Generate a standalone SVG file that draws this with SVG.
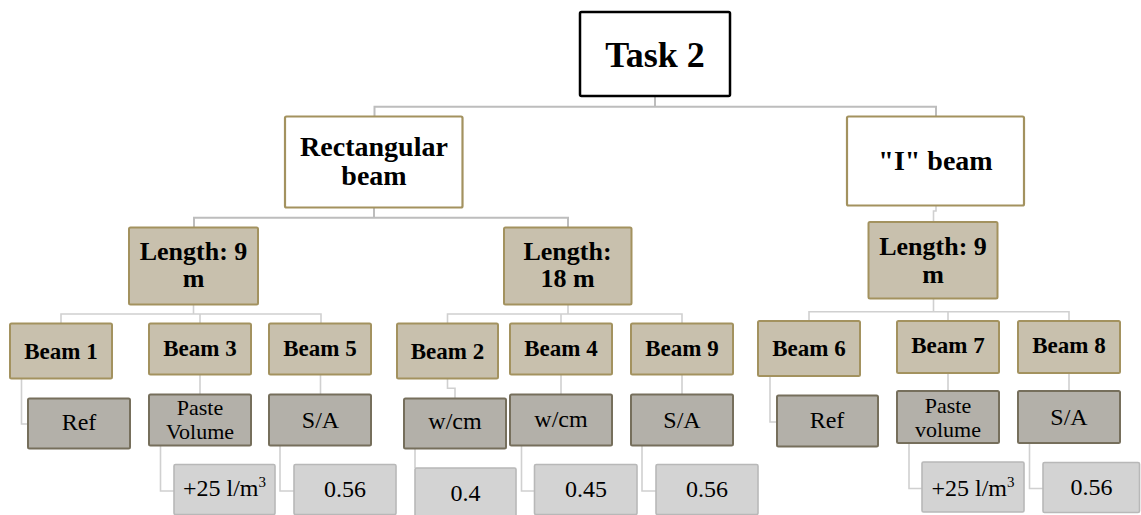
<svg xmlns="http://www.w3.org/2000/svg" width="1141" height="515" viewBox="0 0 1141 515">
<style>
text{font-family:"Liberation Serif","Times New Roman",serif;text-anchor:middle;fill:#000}
.b{font-weight:bold}
.top{fill:#fff;stroke:#000;stroke-width:2.5}
.wh{fill:#fff;stroke:#A3925F;stroke-width:2.2}
.tan{fill:#C8C0AD;stroke:#A3925F;stroke-width:2}
.dk{fill:#B3B0A9;stroke:#766F5C;stroke-width:2}
.lt{fill:#D3D3D3;stroke:#B8B8B8;stroke-width:1.6}
.c1{fill:none;stroke:#BDBDBD;stroke-width:2}
.c2{fill:none;stroke:#D0D0D0;stroke-width:1.6}
.f36{font-size:36px}.f28{font-size:28px}.f26{font-size:26px}.f23{font-size:23px}.f24{font-size:24px}.f22{font-size:22px}
</style>
<rect width="1141" height="515" fill="#fff"/>
<g id="connectors">
<path class="c1" d="M655,96.7 V106.7 M374.5,116.5 V106.7 H936 V116.5"/>
<path class="c1" d="M374,207.7 V217.7 M194,227.5 V217.7 H568 V227.5"/>
<path class="c2" d="M936,205.5 V211 H933.5 V222"/>
<path class="c2" d="M193.5,304.7 V314 M61,323.5 V314 H321 V323.5 M200,314 V323.5"/>
<path class="c2" d="M568,304.7 V314 M447.5,323.5 V314 H682 V323.5 M561,314 V323.5"/>
<path class="c2" d="M933.5,298.7 V311.7 M809,321 V311.7 H1069 V321 M948,311.7 V321"/>
<path class="c2" d="M21.5,378.5 V424 H28"/>
<path class="c2" d="M200,374.5 V394.5 M320.5,374.5 V394.5"/>
<path class="c2" d="M447.5,378.5 V388.3 H455 V398.5"/>
<path class="c2" d="M561,374.5 V394.5 M682,374.5 V394.5"/>
<path class="c2" d="M770,376 V422 H777"/>
<path class="c2" d="M948,373 V391 M1069,373 V391"/>
<path class="c2" d="M160.5,445.5 V491 H174 M280,445.5 V491 H294"/>
<path class="c2" d="M415,448.5 V468"/>
<path class="c2" d="M521.5,445.5 V491 H534.5 M642,445.5 V491 H656"/>
<path class="c2" d="M909,443 V488.5 H922 M1029.5,443 V488.5 H1043"/>
</g>
<g id="task2"><rect class="top" x="580" y="12" width="150" height="84" rx="1.5"/><text class="b f36" x="655" y="66.7">Task 2</text></g>
<g id="rect-beam"><rect class="wh" x="285" y="116.5" width="177.5" height="91" rx="1.5"/><text class="b f28" x="374" y="156">Rectangular</text><text class="b f28" x="374" y="185">beam</text></g>
<g id="i-beam"><rect class="wh" x="847" y="116.5" width="177" height="89" rx="1.5"/><text class="b f28" x="935.5" y="170">"I" beam</text></g>
<g id="len9-left"><rect class="tan" x="129" y="227.5" width="129" height="77" rx="1.5"/><text class="b f26" x="193.5" y="260">Length: 9</text><text class="b f26" x="193.5" y="287.3">m</text></g>
<g id="len18"><rect class="tan" x="504" y="227.5" width="127.5" height="77" rx="1.5"/><text class="b f26" x="567.5" y="260">Length:</text><text class="b f26" x="567.5" y="286.7">18 m</text></g>
<g id="len9-right"><rect class="tan" x="868.5" y="222" width="129" height="76.5" rx="1.5"/><text class="b f26" x="933" y="255">Length: 9</text><text class="b f26" x="933" y="282.7">m</text></g>
<g id="beam1"><rect class="tan" x="10" y="323.5" width="102" height="55" rx="1.5"/><text class="b f23" x="61" y="359">Beam 1</text></g>
<g id="beam3"><rect class="tan" x="149" y="323.5" width="102" height="51" rx="1.5"/><text class="b f23" x="200" y="356">Beam 3</text></g>
<g id="beam5"><rect class="tan" x="269" y="323.5" width="102" height="51" rx="1.5"/><text class="b f23" x="320" y="356">Beam 5</text></g>
<g id="beam2"><rect class="tan" x="397" y="323.5" width="101" height="55" rx="1.5"/><text class="b f23" x="447.5" y="359">Beam 2</text></g>
<g id="beam4"><rect class="tan" x="510" y="323.5" width="102" height="51" rx="1.5"/><text class="b f23" x="561" y="356">Beam 4</text></g>
<g id="beam9"><rect class="tan" x="631" y="323.5" width="102" height="51" rx="1.5"/><text class="b f23" x="682" y="356">Beam 9</text></g>
<g id="beam6"><rect class="tan" x="758" y="321" width="102" height="55" rx="1.5"/><text class="b f23" x="809" y="356">Beam 6</text></g>
<g id="beam7"><rect class="tan" x="897" y="321" width="102" height="52" rx="1.5"/><text class="b f23" x="948" y="353.3">Beam 7</text></g>
<g id="beam8"><rect class="tan" x="1018" y="321" width="102" height="52" rx="1.5"/><text class="b f23" x="1069" y="353.3">Beam 8</text></g>
<g id="ref1"><rect class="dk" x="28" y="398.5" width="102" height="50" rx="1.5"/><text class="f24" x="79" y="430">Ref</text></g>
<g id="paste1"><rect class="dk" x="149" y="394.5" width="102" height="51" rx="1.5"/><text class="f22" x="200" y="415">Paste</text><text class="f22" x="200" y="439">Volume</text></g>
<g id="sa1"><rect class="dk" x="269" y="394.5" width="102" height="51" rx="1.5"/><text class="f24" x="320.5" y="428">S/A</text></g>
<g id="wcm1"><rect class="dk" x="404" y="398.5" width="102" height="50" rx="1.5"/><text class="f24" x="455" y="429.3">w/cm</text></g>
<g id="wcm2"><rect class="dk" x="510" y="394.5" width="102" height="51" rx="1.5"/><text class="f24" x="561" y="426.7">w/cm</text></g>
<g id="sa2"><rect class="dk" x="631" y="394.5" width="102" height="51" rx="1.5"/><text class="f24" x="682" y="427.7">S/A</text></g>
<g id="ref2"><rect class="dk" x="777" y="395.5" width="101" height="51" rx="1.5"/><text class="f24" x="827" y="428.3">Ref</text></g>
<g id="paste2"><rect class="dk" x="897" y="391" width="102" height="52" rx="1.5"/><text class="f22" x="948" y="413">Paste</text><text class="f22" x="948" y="437">volume</text></g>
<g id="sa3"><rect class="dk" x="1018" y="391" width="102" height="52" rx="1.5"/><text class="f24" x="1069" y="425">S/A</text></g>
<g id="val-25a"><rect class="lt" x="174" y="464.5" width="101" height="50" rx="1.5"/><text class="f24" x="224.5" y="496">+25 l/m<tspan font-size="15" dy="-9">3</tspan></text></g>
<g id="val-056a"><rect class="lt" x="294" y="464.5" width="102" height="50" rx="1.5"/><text class="f24" x="345" y="497">0.56</text></g>
<g id="val-04"><rect class="lt" x="415" y="468" width="101" height="50" rx="1.5"/><text class="f24" x="465.5" y="501">0.4</text></g>
<g id="val-045"><rect class="lt" x="534.5" y="464.5" width="102.5" height="50" rx="1.5"/><text class="f24" x="586" y="496.7">0.45</text></g>
<g id="val-056b"><rect class="lt" x="656" y="464.5" width="102" height="50" rx="1.5"/><text class="f24" x="707" y="496.7">0.56</text></g>
<g id="val-25b"><rect class="lt" x="922" y="462" width="102" height="50" rx="1.5"/><text class="f24" x="973" y="496">+25 l/m<tspan font-size="15" dy="-9">3</tspan></text></g>
<g id="val-056c"><rect class="lt" x="1043" y="462.5" width="96.5" height="50" rx="1.5"/><text class="f24" x="1091.5" y="495">0.56</text></g>
</svg>
